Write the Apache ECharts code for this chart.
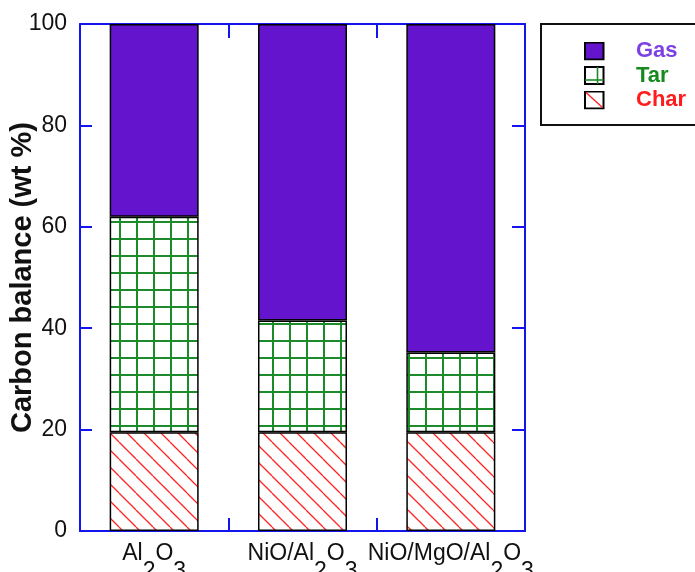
<!DOCTYPE html>
<html>
<head>
<meta charset="utf-8">
<script src="https://cdn.jsdelivr.net/npm/echarts@6/dist/echarts.min.js"></script>
<style>
  html, body { margin: 0; padding: 0; background: #fff; }
  #chart { width: 695px; height: 572px; }
</style>
</head>
<body>
<div id="chart"></div>
<script>
// Carbon balance of the products for each catalyst (wt %)
const categories = ['Al2O3', 'NiO/Al2O3', 'NiO/MgO/Al2O3'];
const charValues = [19.5, 19.5, 19.5];
const tarValues  = [42.5, 22.0, 15.7];
const gasValues  = [38.0, 58.5, 64.8];

const FONT = '"Liberation Sans", Arial, sans-serif';
const GAS_FILL = '#6414CD';
const TAR_LINE = '#1c8c2a';
const CHAR_LINE = '#ff2424';
const AXIS_BLUE = '#1414f0';

// Repeating fill tiles for the hatched segments
function gridTile() {
  const s = 17, c = document.createElement('canvas');
  c.width = s; c.height = s;
  const g = c.getContext('2d');
  g.fillStyle = '#fff'; g.fillRect(0, 0, s, s);
  g.fillStyle = TAR_LINE;
  g.fillRect(0, 0, 2, s);
  g.fillRect(0, 0, s, 2);
  return c;
}
function diagTile() {
  const s = 17, c = document.createElement('canvas');
  c.width = s; c.height = s;
  const g = c.getContext('2d');
  g.fillStyle = '#fff'; g.fillRect(0, 0, s, s);
  g.strokeStyle = CHAR_LINE; g.lineWidth = 1.3;
  for (const k of [-s, 0, s]) {
    g.beginPath(); g.moveTo(k, 0); g.lineTo(k + s, s); g.stroke();
  }
  return c;
}

// Legend swatches: square on the left, transparent space on the right
function svgIcon(inner) {
  const svg = "<svg xmlns='http://www.w3.org/2000/svg' width='47' height='19'>" + inner + "</svg>";
  return 'image://data:image/svg+xml;charset=utf-8,' + encodeURIComponent(svg);
}
const gasIcon = svgIcon("<rect x='1' y='1' width='18.5' height='17' fill='" + GAS_FILL + "' stroke='#000' stroke-width='2'/>");
const tarIcon = svgIcon("<rect x='1' y='1' width='18.5' height='17' fill='#fff' stroke='#000' stroke-width='2'/>" +
  "<line x1='13.5' y1='1' x2='13.5' y2='18' stroke='" + TAR_LINE + "' stroke-width='1.6'/>" +
  "<line x1='1' y1='14' x2='19.5' y2='14' stroke='" + TAR_LINE + "' stroke-width='1.6'/>");
const charIcon = svgIcon("<rect x='1' y='1' width='18.5' height='17' fill='#fff' stroke='#000' stroke-width='2'/>" +
  "<line x1='2' y1='2' x2='18.5' y2='17' stroke='" + CHAR_LINE + "' stroke-width='1.4'/>");

// Chemical formula labels with lowered digits
function formulaLabel(v) {
  return v.replace(/([A-Za-z\/]+)/g, '{n|$1}').replace(/(\d)/g, '{s|$1}');
}

const chart = echarts.init(document.getElementById('chart'), null, { renderer: 'canvas' });

const barBorder = { borderColor: '#000', borderWidth: 1.5 };
const boundaryTick = (len) => ({
  show: true, inside: true, interval: 0, alignWithLabel: false, length: len,
  lineStyle: { color: AXIS_BLUE, width: 2 }
});
const frameLine = { show: true, onZero: false, lineStyle: { color: AXIS_BLUE, width: 2 } };

chart.setOption({
  animation: false,
  backgroundColor: '#fff',
  grid: { left: 80, right: 170, top: 24, bottom: 41, containLabel: false, outerBoundsMode: 'none' },
  legend: {
    orient: 'vertical',
    left: 584,
    top: 40,
    padding: 0,
    itemWidth: 47,
    itemHeight: 19,
    itemGap: 2.5,
    selectedMode: false,
    textStyle: { fontFamily: FONT, fontSize: 22, fontWeight: 'bold' },
    data: [
      { name: 'Gas', icon: gasIcon, textStyle: { color: '#7d40e2' } },
      { name: 'Tar', icon: tarIcon, textStyle: { color: '#168a1e' } },
      { name: 'Char', icon: charIcon, textStyle: { color: '#ff1c1c' } }
    ]
  },
  graphic: [{
    type: 'rect',
    shape: { x: 541, y: 24, width: 170, height: 101 },
    style: { fill: 'none', stroke: '#111', lineWidth: 2 },
    silent: true
  }],
  xAxis: [{
    type: 'category',
    data: categories,
    position: 'bottom',
    axisLine: frameLine,
    axisTick: boundaryTick(13),
    axisLabel: {
      interval: 0,
      hideOverlap: false,
      margin: 11,
      verticalAlign: 'top',
      formatter: formulaLabel,
      rich: {
        n: { fontFamily: FONT, fontSize: 23, color: '#111', verticalAlign: 'top' },
        s: { fontFamily: FONT, fontSize: 23, color: '#111', verticalAlign: 'top', padding: [18, 0, 0, 0] }
      }
    }
  }, {
    type: 'category',
    data: categories,
    position: 'top',
    axisLine: frameLine,
    axisTick: boundaryTick(14),
    axisLabel: { show: false }
  }],
  yAxis: [{
    type: 'value',
    min: 0, max: 100, interval: 20,
    position: 'left',
    name: 'Carbon balance (wt %)',
    nameLocation: 'middle',
    nameGap: 43,
    nameMoveOverlap: false,
    nameTextStyle: { fontFamily: FONT, fontSize: 29, fontWeight: 'bold', color: '#111' },
    axisLine: frameLine,
    axisTick: { show: true, inside: true, length: 12, lineStyle: { color: AXIS_BLUE, width: 2 } },
    axisLabel: { margin: 13, fontFamily: FONT, fontSize: 23, color: '#111' },
    splitLine: { show: false }
  }, {
    type: 'value',
    min: 0, max: 100, interval: 20,
    position: 'right',
    axisLine: frameLine,
    axisTick: { show: true, inside: true, length: 13, lineStyle: { color: AXIS_BLUE, width: 2 } },
    axisLabel: { show: false },
    splitLine: { show: false }
  }],
  series: [{
    name: 'Char', type: 'bar', stack: 'balance', barWidth: 89,
    data: charValues,
    itemStyle: Object.assign({ color: { image: diagTile(), repeat: 'repeat' } }, barBorder)
  }, {
    name: 'Tar', type: 'bar', stack: 'balance', barWidth: 89,
    data: tarValues,
    itemStyle: Object.assign({ color: { image: gridTile(), repeat: 'repeat' } }, barBorder)
  }, {
    name: 'Gas', type: 'bar', stack: 'balance', barWidth: 89,
    data: gasValues,
    itemStyle: Object.assign({ color: GAS_FILL }, barBorder)
  }]
});
</script>
</body>
</html>
